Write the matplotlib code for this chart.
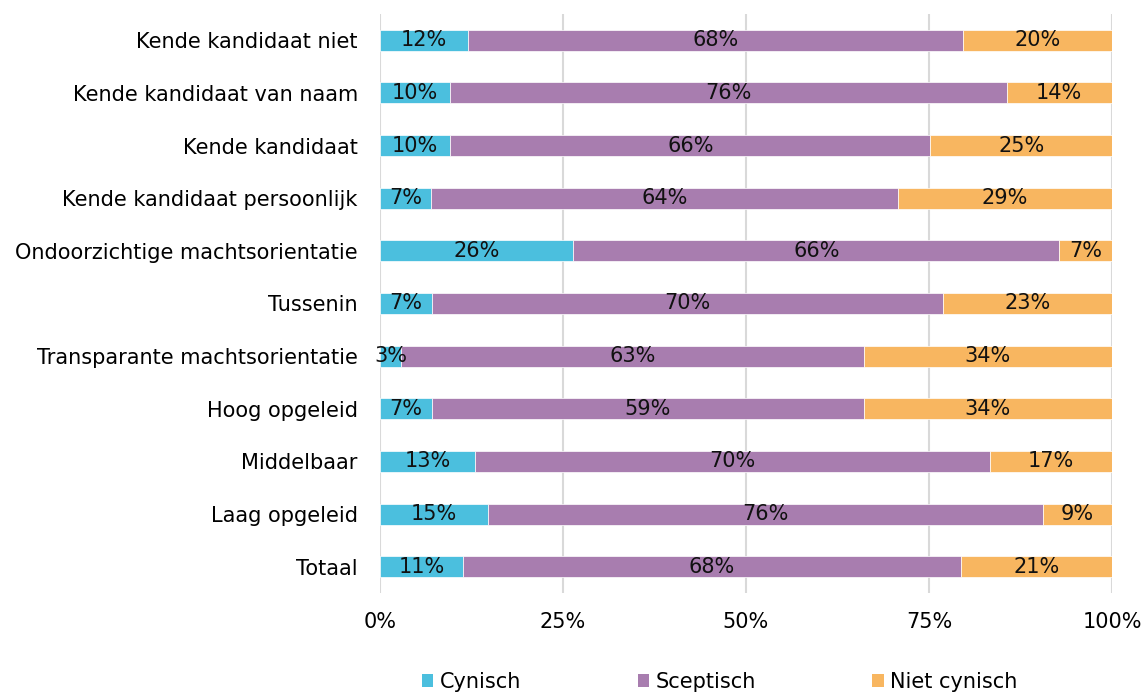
import matplotlib.pyplot as plt
import numpy as np
from matplotlib.patches import Patch

categories = ["Kende kandidaat niet", "Kende kandidaat van naam", "Kende kandidaat",
              "Kende kandidaat persoonlijk", "Ondoorzichtige machtsorientatie", "Tussenin",
              "Transparante machtsorientatie", "Hoog opgeleid", "Middelbaar",
              "Laag opgeleid", "Totaal"]
cynisch = [12.0, 9.6, 9.6, 7.0, 26.4, 7.1, 2.9, 7.1, 13.0, 14.8, 11.3]
sceptisch = [67.6, 76.0, 65.6, 63.8, 66.4, 69.8, 63.2, 59.0, 70.3, 75.8, 68.1]
niet_cynisch = [20.4, 14.4, 24.8, 29.2, 7.2, 23.1, 33.9, 33.9, 16.7, 9.4, 20.6]
series = ["Cynisch", "Sceptisch", "Niet cynisch"]
colors = ["#4BBFDE", "#A87DAF", "#F8B660"]
ticks = [0, 25, 50, 75, 100]

fs = 15

fig = plt.figure(figsize=(11.46, 6.93), dpi=100)
ax = fig.add_axes([380/1146, 1-593/693, 732/1146, 579/693])

y = np.arange(len(categories))
left = np.zeros(len(categories))
for vals, col in zip([cynisch, sceptisch, niet_cynisch], colors):
    vals = np.array(vals)
    ax.barh(y, vals, left=left, height=0.4, color=col, edgecolor="white", linewidth=0.5, zorder=3)
    for yi, l, v in zip(y, left, vals):
        ax.text(l + v/2, yi, f"{v:.0f}%", ha="center", va="center", fontsize=fs, color="#111111", zorder=4)
    left = left + vals

ax.set_xlim(0, 100)
ax.set_ylim(len(categories) - 0.5, -0.5)
ax.set_yticks(y)
ax.set_yticklabels(categories, fontsize=fs)
ax.set_xticks(ticks)
ax.set_xticklabels([f"{t}%" for t in ticks], fontsize=fs)
ax.tick_params(length=0)
ax.tick_params(axis="y", pad=16)
ax.tick_params(axis="x", pad=14)
for s in ax.spines.values():
    s.set_visible(False)
ax.grid(axis="x", color="#D9D9D9", linewidth=1.5, zorder=0)

# legend sits at the very bottom, partly clipped like in the original
handles = [Patch(facecolor=c, label=s) for c, s in zip(colors, series)]
fig.legend(handles=handles, loc="center", bbox_to_anchor=(0.628, 0.016), ncol=3, frameon=False,
           fontsize=fs, handlelength=0.55, handleheight=0.55, handletextpad=0.3, columnspacing=5.6)

fig.savefig("out.png", dpi=100)
